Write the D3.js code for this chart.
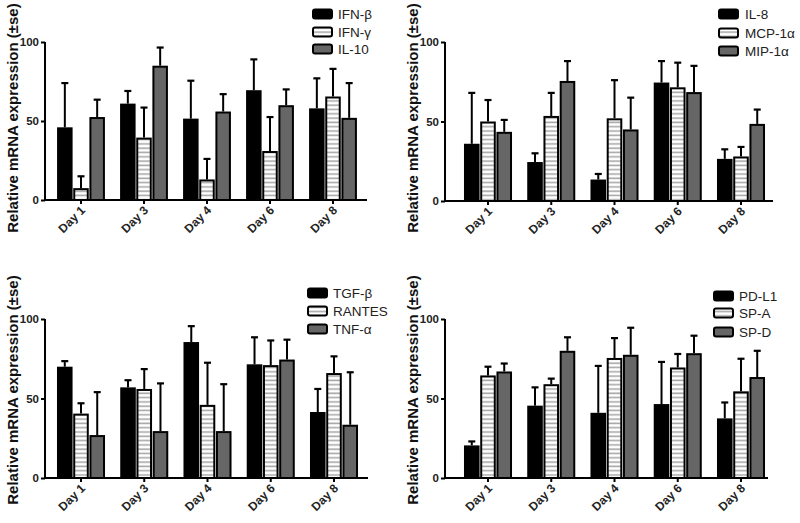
<!DOCTYPE html>
<html><head><meta charset="utf-8">
<script src="https://cdn.jsdelivr.net/npm/d3@7/dist/d3.min.js"></script>
<style>body{margin:0;background:#fff}svg{display:block}</style>
</head><body>
<svg id="c" width="800" height="523"></svg>
<script>
const days = ["Day 1","Day 3","Day 4","Day 6","Day 8"];
const yTicks = [0, 50, 100];

// Panel A
const seriesA = ["IFN-β","IFN-γ","IL-10"];
const ifnbMean = [46, 61, 51.5, 69.5, 58];
const ifnbErr  = [74, 69, 75.5, 89, 77];
const ifngMean = [7.5, 39.5, 13, 31, 65.5];
const ifngErr  = [15, 58.5, 26, 52.5, 83];
const il10Mean = [52.5, 85, 56, 60, 52];
const il10Err  = [63.5, 96.5, 67, 70, 74];

// Panel B
const seriesB = ["IL-8","MCP-1α","MIP-1α"];
const il8Mean  = [36, 24.5, 13.5, 74.5, 26.5];
const il8Err   = [68, 30, 17, 88, 32.5];
const mcpMean  = [50, 53.5, 52, 71.5, 28];
const mcpErr   = [63.5, 68, 76, 87, 34];
const mipMean  = [43.5, 75.5, 45, 68.5, 48.5];
const mipErr   = [51, 88, 65, 85, 57.5];

// Panel C
const seriesC = ["TGF-β","RANTES","TNF-α"];
const tgfMean  = [70, 57, 85.5, 71.5, 41.5];
const tgfErr   = [73.5, 61.5, 95.5, 88.5, 56];
const rantMean = [40.5, 56, 46, 71, 66];
const rantErr  = [47, 68.5, 72.5, 86.5, 76.5];
const tnfMean  = [27, 29.5, 29.5, 74.5, 33.5];
const tnfErr   = [54, 59.5, 59, 87, 66.5];

// Panel D
const seriesD = ["PD-L1","SP-A","SP-D"];
const pdl1Mean = [20.5, 45.5, 41, 46.5, 37.5];
const pdl1Err  = [23, 57, 70.5, 73, 47.5];
const spaMean  = [64.5, 59, 75.5, 69.5, 54.5];
const spaErr   = [70, 62.5, 88, 78, 75];
const spdMean  = [67, 80, 77.5, 78.5, 63.5];
const spdErr   = [72, 88.5, 94.5, 89.5, 80];

const panels = [
  {series: seriesA, means: [ifnbMean, ifngMean, il10Mean], errs: [ifnbErr, ifngErr, il10Err]},
  {series: seriesB, means: [il8Mean, mcpMean, mipMean], errs: [il8Err, mcpErr, mipErr]},
  {series: seriesC, means: [tgfMean, rantMean, tnfMean], errs: [tgfErr, rantErr, tnfErr]},
  {series: seriesD, means: [pdl1Mean, spaMean, spdMean], errs: [pdl1Err, spaErr, spdErr]}
];

// layout (positions only)
const layout = [
  {ax: 45,  axEnd: 367, c0: 81,  c4: 333, y0: 200, y100: 42,  lx: 312, ly: [14, 32, 49], tx: 338, labX: 17.5,  labY: 118},
  {ax: 445, axEnd: 773, c0: 488, c4: 741, y0: 201, y100: 42,  lx: 718, ly: [14, 33, 51], tx: 745, labX: 417.5, labY: 118},
  {ax: 45,  axEnd: 368, c0: 81,  c4: 334, y0: 478, y100: 319, lx: 307, ly: [293, 311, 329], tx: 333, labX: 17.5, labY: 390},
  {ax: 445, axEnd: 768, c0: 488, c4: 741, y0: 478, y100: 319, lx: 713, ly: [296, 313, 332], tx: 739, labX: 417.5, labY: 390}
];

const svg = d3.select("#c");
const defs = svg.append("defs");
const pat = defs.append("pattern").attr("id","stripe").attr("patternUnits","userSpaceOnUse")
  .attr("width", 8).attr("height", 4.3);
pat.append("rect").attr("width",8).attr("height",4.3).attr("fill","#fff");
pat.append("rect").attr("y",1.2).attr("width",8).attr("height",1.6).attr("fill","#a8a8a8");

const fills = ["#000", "url(#stripe)", "#666"];
const font = "'Liberation Sans', Arial, sans-serif";

panels.forEach((p, pi) => {
  const L = layout[pi];
  const g = svg.append("g");
  const step = (L.c4 - L.c0) / 4;
  const x0 = d3.scaleBand().domain(days).range([L.c0 - step/2, L.c4 + step/2]).paddingInner(0.22).paddingOuter(0.11);
  const x1 = d3.scaleBand().domain(p.series).range([0, x0.bandwidth()]).padding(0.04);
  const y = d3.scaleLinear().domain([0, 100]).range([L.y0, L.y100]);

  // error bars
  p.series.forEach((s, si) => {
    days.forEach((d, di) => {
      const cx = x0(d) + x1(s) + x1.bandwidth()/2;
      g.append("line").attr("x1", cx).attr("x2", cx)
        .attr("y1", y(p.means[si][di])).attr("y2", y(p.errs[si][di]))
        .attr("stroke", "#000").attr("stroke-width", 2);
      g.append("line").attr("x1", cx - 3.5).attr("x2", cx + 3.5)
        .attr("y1", y(p.errs[si][di])).attr("y2", y(p.errs[si][di]))
        .attr("stroke", "#000").attr("stroke-width", 2.2);
    });
  });
  // bars
  p.series.forEach((s, si) => {
    g.selectAll(null).data(days.map((d, di) => ({d, v: p.means[si][di]}))).enter()
      .append("rect")
      .attr("x", d => x0(d.d) + x1(s) + 1)
      .attr("width", x1.bandwidth() - 2)
      .attr("y", d => y(d.v) + 1)
      .attr("height", d => y(0) - y(d.v) - 1)
      .attr("fill", fills[si]).attr("stroke", "#000").attr("stroke-width", 2);
  });

  // y axis
  const yAx = g.append("g").attr("transform", `translate(${L.ax},0)`)
    .call(d3.axisLeft(y).tickValues(yTicks).tickSize(4).tickPadding(2));
  yAx.select(".domain").attr("stroke-width", 2).attr("d", `M0,${y(0)}V${y(100)}`);
  yAx.selectAll(".tick line").attr("stroke-width", 2);
  yAx.selectAll("text").attr("font-family", font).attr("font-size", 11.5).attr("font-weight", "bold").attr("fill", "#222");

  // x axis
  const xAx = g.append("g").attr("transform", `translate(0,${L.y0})`)
    .call(d3.axisBottom(x0).tickSize(4).tickSizeOuter(0));
  xAx.select(".domain").attr("stroke-width", 2).attr("d", `M${L.ax},0H${L.axEnd}`);
  xAx.selectAll(".tick line").attr("stroke-width", 2);
  xAx.selectAll("text").attr("font-family", font).attr("font-size", 12).attr("font-weight", "bold").attr("fill", "#222")
    .attr("text-anchor", "end").attr("dy", null).attr("y", 0)
    .attr("transform", "translate(5,11) rotate(-45)");

  // y label
  g.append("text").attr("transform", `translate(${L.labX},${L.labY}) rotate(-90)`)
    .attr("text-anchor", "middle").attr("font-family", font).attr("font-weight", "bold")
    .attr("font-size", 15).attr("fill", "#111").text("Relative mRNA expression (±se)");

  // legend
  p.series.forEach((s, si) => {
    g.append("rect").attr("x", L.lx + 1).attr("y", L.ly[si] - 4.5).attr("width", 19).attr("height", 9)
      .attr("rx", 2).attr("fill", fills[si]).attr("stroke", "#000").attr("stroke-width", 2);
    g.append("text").attr("x", L.tx).attr("y", L.ly[si]).attr("dy", "0.36em")
      .attr("font-family", font).attr("font-size", 13.5).attr("fill", "#222").text(s);
  });
});
</script>
</body></html>
